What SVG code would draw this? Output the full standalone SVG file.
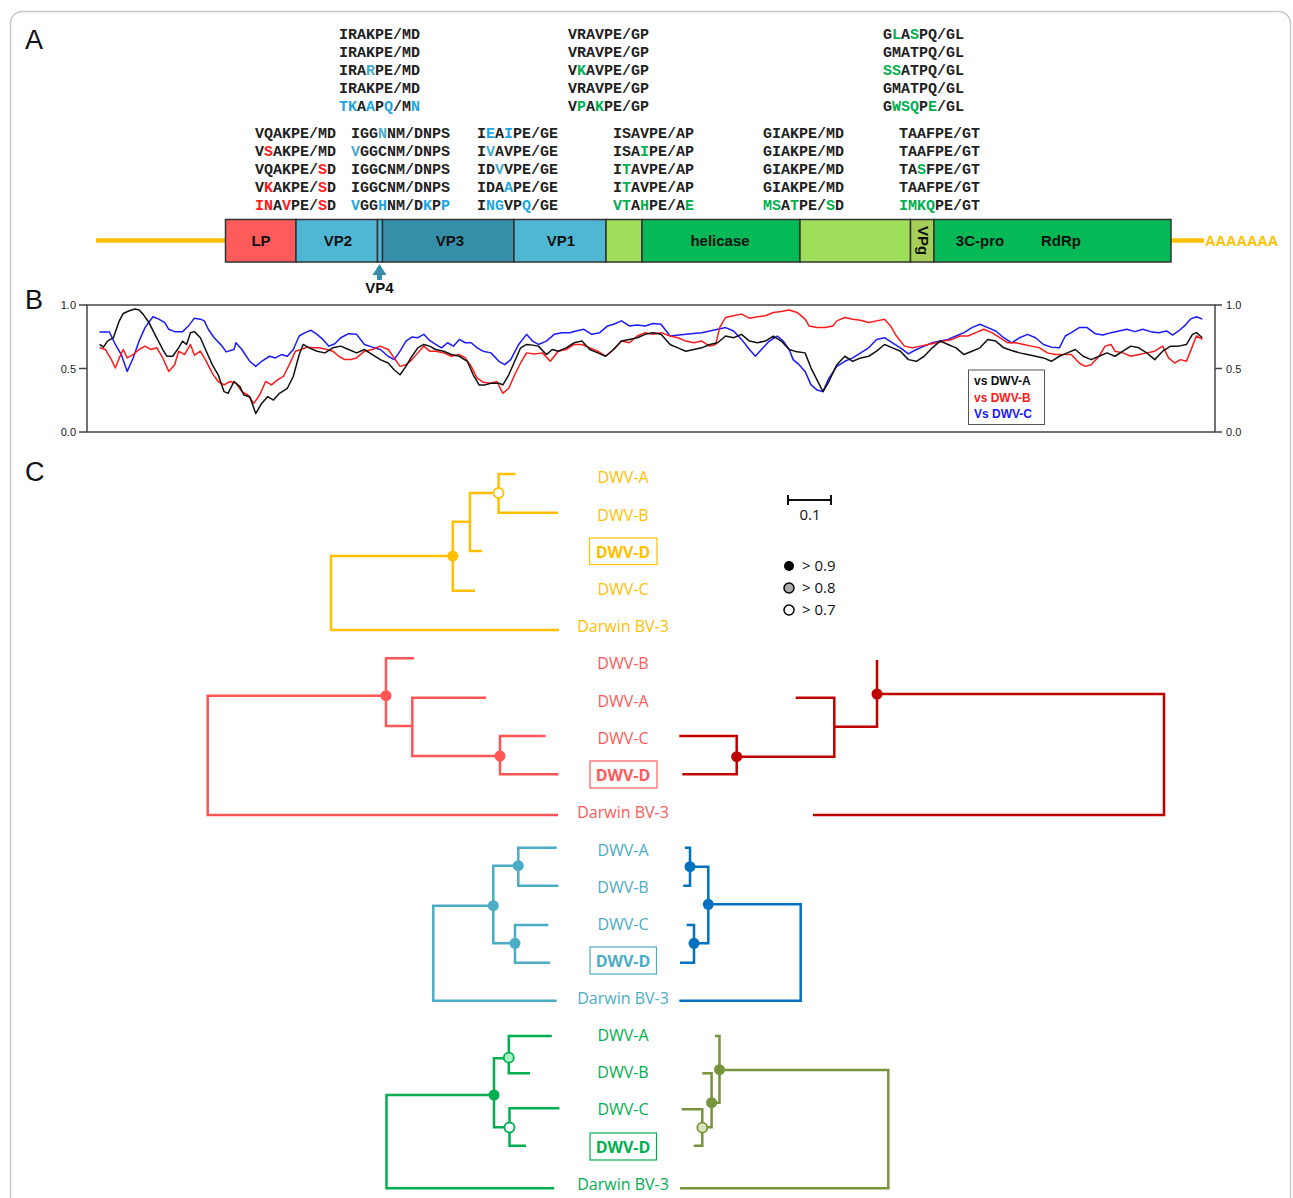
<svg xmlns="http://www.w3.org/2000/svg" width="1293" height="1198" viewBox="0 0 1293 1198">
<style>
.seq{font-family:"Liberation Mono","Courier New",monospace;font-size:15px;font-weight:bold;fill:#222}
.r{fill:#ff1a1a}.b{fill:#1ea5e3}.t{fill:#4bacc6}.g{fill:#00b050}
.panel{font-family:"Liberation Sans",Arial,sans-serif;font-size:27px;fill:#111}
.seg{stroke:#333;stroke-width:1.5}
.gl{font-family:"Liberation Sans",Arial,sans-serif;font-size:15px;font-weight:bold;fill:#111;text-anchor:middle}
.ax{font-family:"Liberation Sans",Arial,sans-serif;font-size:11px;fill:#222}
.cv{fill:none;stroke-width:1.5;stroke-linejoin:round}
.lg{font-family:"Liberation Sans",Arial,sans-serif;font-size:12px;font-weight:bold}
.tl{font-family:"Open Sans","Liberation Sans",sans-serif;font-size:16px;text-anchor:middle}
.tb{font-weight:bold}
.br{fill:none;stroke-width:2.5;stroke-linejoin:miter}
.leg{font-family:"Open Sans","Liberation Sans",sans-serif;font-size:15px;fill:#111}
</style>
<rect x="10.5" y="11.5" width="1280" height="1200" rx="12" fill="#fff" stroke="#c8c8c8" stroke-width="1.5"/>
<text class="panel" x="25" y="49">A</text>
<text class="panel" x="25" y="309">B</text>
<text class="panel" x="25" y="481">C</text>

<g id="sequences">
<g id="seq-top1">
<text class="seq" x="339" y="38.5">IRAKPE/MD</text>
<text class="seq" x="339" y="56.5">IRAKPE/MD</text>
<text class="seq" x="339" y="74.5">IRA<tspan class="t">R</tspan>PE/MD</text>
<text class="seq" x="339" y="92.5">IRAKPE/MD</text>
<text class="seq" x="339" y="110.5"><tspan class="b">TK</tspan>A<tspan class="b">A</tspan>P<tspan class="b">Q</tspan>/M<tspan class="b">N</tspan></text>
</g>
<g id="seq-top2">
<text class="seq" x="568" y="38.5">VRAVPE/GP</text>
<text class="seq" x="568" y="56.5">VRAVPE/GP</text>
<text class="seq" x="568" y="74.5">V<tspan class="g">K</tspan>AVPE/GP</text>
<text class="seq" x="568" y="92.5">VRAVPE/GP</text>
<text class="seq" x="568" y="110.5">V<tspan class="g">P</tspan>A<tspan class="g">K</tspan>PE/GP</text>
</g>
<g id="seq-top3">
<text class="seq" x="883" y="38.5">G<tspan class="g">L</tspan>A<tspan class="g">S</tspan>PQ/GL</text>
<text class="seq" x="883" y="56.5">GMATPQ/GL</text>
<text class="seq" x="883" y="74.5"><tspan class="g">SS</tspan>ATPQ/GL</text>
<text class="seq" x="883" y="92.5">GMATPQ/GL</text>
<text class="seq" x="883" y="110.5">G<tspan class="g">WSQ</tspan>P<tspan class="g">E</tspan>/GL</text>
</g>
<g id="seq-b1">
<text class="seq" x="255" y="137.5">VQAKPE/MD</text>
<text class="seq" x="255" y="155.5">V<tspan class="r">S</tspan>AKPE/MD</text>
<text class="seq" x="255" y="173.5">VQAKPE/<tspan class="r">S</tspan>D</text>
<text class="seq" x="255" y="191.5">V<tspan class="r">K</tspan>AKPE/<tspan class="r">S</tspan>D</text>
<text class="seq" x="255" y="209.5"><tspan class="r">IN</tspan>A<tspan class="r">V</tspan>PE/<tspan class="r">S</tspan>D</text>
</g>
<g id="seq-b2">
<text class="seq" x="351" y="137.5">IGG<tspan class="t">N</tspan>NM/DNPS</text>
<text class="seq" x="351" y="155.5"><tspan class="t">V</tspan>GGCNM/DNPS</text>
<text class="seq" x="351" y="173.5">IGGCNM/DNPS</text>
<text class="seq" x="351" y="191.5">IGGCNM/DNPS</text>
<text class="seq" x="351" y="209.5"><tspan class="b">V</tspan>GG<tspan class="b">H</tspan>NM/D<tspan class="b">K</tspan>P<tspan class="b">P</tspan></text>
</g>
<g id="seq-b3">
<text class="seq" x="477" y="137.5">I<tspan class="b">E</tspan>A<tspan class="b">I</tspan>PE/GE</text>
<text class="seq" x="477" y="155.5">I<tspan class="t">V</tspan>AVPE/GE</text>
<text class="seq" x="477" y="173.5">ID<tspan class="t">V</tspan>VPE/GE</text>
<text class="seq" x="477" y="191.5">IDA<tspan class="b">A</tspan>PE/GE</text>
<text class="seq" x="477" y="209.5">I<tspan class="b">NG</tspan>VP<tspan class="b">Q</tspan>/GE</text>
</g>
<g id="seq-b4">
<text class="seq" x="613" y="137.5">ISAVPE/AP</text>
<text class="seq" x="613" y="155.5">ISA<tspan class="g">I</tspan>PE/AP</text>
<text class="seq" x="613" y="173.5">I<tspan class="g">T</tspan>AVPE/AP</text>
<text class="seq" x="613" y="191.5">I<tspan class="g">T</tspan>AVPE/AP</text>
<text class="seq" x="613" y="209.5"><tspan class="g">VT</tspan>A<tspan class="g">H</tspan>PE/A<tspan class="g">E</tspan></text>
</g>
<g id="seq-b5">
<text class="seq" x="763" y="137.5">GIAKPE/MD</text>
<text class="seq" x="763" y="155.5">GIAKPE/MD</text>
<text class="seq" x="763" y="173.5">GIAKPE/MD</text>
<text class="seq" x="763" y="191.5">GIAKPE/MD</text>
<text class="seq" x="763" y="209.5"><tspan class="g">MS</tspan>A<tspan class="g">T</tspan>PE/<tspan class="g">S</tspan>D</text>
</g>
<g id="seq-b6">
<text class="seq" x="899" y="137.5">TAAFPE/GT</text>
<text class="seq" x="899" y="155.5">TAAFPE/GT</text>
<text class="seq" x="899" y="173.5">TA<tspan class="g">S</tspan>FPE/GT</text>
<text class="seq" x="899" y="191.5">TAAFPE/GT</text>
<text class="seq" x="899" y="209.5"><tspan class="g">IMKQ</tspan>PE/GT</text>
</g>
</g>

<g id="genome">
<line x1="96" y1="240.5" x2="226" y2="240.5" stroke="#ffc000" stroke-width="4.5"/>
<line x1="1171" y1="240.5" x2="1204" y2="240.5" stroke="#ffc000" stroke-width="4.5"/>
<text x="1205" y="246" font-family="Liberation Sans, Arial, sans-serif" font-size="14.5" font-weight="bold" fill="#ffc000">AAAAAAA</text>
<g id="seg-LP"><rect class="seg" x="225.5" y="219.5" width="70.5" height="42.5" fill="#ff5b5b"/><text class="gl" x="261" y="246">LP</text></g>
<g id="seg-VP2"><rect class="seg" x="296" y="219.5" width="81.5" height="42.5" fill="#4fb6d4"/><text class="gl" x="338" y="246">VP2</text></g>
<g id="seg-VP4"><rect class="seg" x="377.5" y="219.5" width="5" height="42.5" fill="#4fb6d4"/></g>
<g id="seg-VP3"><rect class="seg" x="382.5" y="219.5" width="131.5" height="42.5" fill="#368fa8"/><text class="gl" x="450" y="246">VP3</text></g>
<g id="seg-VP1"><rect class="seg" x="514" y="219.5" width="92" height="42.5" fill="#4fb6d4"/><text class="gl" x="561" y="246">VP1</text></g>
<g id="seg-L1"><rect class="seg" x="606" y="219.5" width="36" height="42.5" fill="#9fde5a"/></g>
<g id="seg-helicase"><rect class="seg" x="642" y="219.5" width="158" height="42.5" fill="#06b957"/><text class="gl" x="720" y="246">helicase</text></g>
<g id="seg-L2"><rect class="seg" x="800" y="219.5" width="110.5" height="42.5" fill="#9fde5a"/></g>
<g id="seg-VPg"><rect class="seg" x="910.5" y="219.5" width="23.5" height="42.5" fill="#a5cf58"/><text class="gl" transform="translate(917.5,240.5) rotate(90)" x="0" y="0">VPg</text></g>
<g id="seg-3C"><rect class="seg" x="934" y="219.5" width="237" height="42.5" fill="#06b957"/><text class="gl" x="980" y="246">3C-pro</text><text class="gl" x="1061" y="246">RdRp</text></g>
<g id="VP4-arrow"><polygon points="379.5,264 372.5,275 377,275 377,280 382,280 382,275 386.5,275" fill="#368fa8"/><text class="gl" x="379.5" y="293" font-size="12">VP4</text></g>
</g>

<g id="plotB">
<rect x="87" y="305" width="1128" height="127" fill="none" stroke="#444" stroke-width="1.5"/>
<path d="M79,305H87M79,368.5H87M79,432H87M1215,305H1222M1215,368.5H1222M1215,432H1222" stroke="#444" stroke-width="1.5"/>
<text class="ax" x="76" y="309" text-anchor="end">1.0</text>
<text class="ax" x="76" y="373" text-anchor="end">0.5</text>
<text class="ax" x="76" y="436" text-anchor="end">0.0</text>
<text class="ax" x="1226" y="309">1.0</text>
<text class="ax" x="1226" y="373">0.5</text>
<text class="ax" x="1226" y="436">0.0</text>
<g transform="translate(60,293.9) scale(0.3954,0.337)">
<polyline class="cv" vector-effect="non-scaling-stroke" stroke="#1a1aff" points="100,113 125,113 140,150 155,180 170,230 185,190 200,140 215,100 235,68 250,75 265,85 275,105 290,112 310,112 325,95 340,72 355,75 365,80 375,105 390,130 410,155 420,172 440,165 445,145 460,165 480,200 495,215 510,200 530,185 545,190 560,180 575,185 590,165 605,125 620,115 635,108 650,120 665,135 680,155 695,148 710,130 730,118 750,120 770,150 790,158 810,165 830,185 845,195 860,170 875,140 890,128 905,130 920,120 935,138 950,150 965,160 980,145 995,155 1010,135 1025,145 1040,145 1055,160 1070,170 1090,175 1110,200 1125,210 1140,195 1160,150 1180,120 1195,140 1210,150 1230,140 1250,120 1270,115 1290,115 1305,110 1325,105 1345,120 1365,115 1385,95 1400,90 1420,80 1440,95 1460,92 1480,95 1500,88 1520,90 1543,125"/>
<polyline class="cv" vector-effect="non-scaling-stroke" stroke="#ff1a1a" points="100,160 115,165 130,195 140,220 150,190 160,165 170,190 185,180 200,165 215,155 230,165 245,160 260,190 275,230 290,210 300,170 315,180 330,150 340,182 355,170 370,200 385,235 400,260 415,270 430,260 445,265 460,290 475,300 490,325 505,300 520,260 535,270 550,255 565,245 580,210 595,170 610,165 625,158 640,160 655,160 675,165 690,170 705,185 720,195 735,195 750,190 770,170 790,165 810,155 830,165 845,190 860,215 875,210 890,195 905,175 920,155 935,170 950,170 970,175 990,185 1010,180 1025,190 1040,215 1055,250 1070,262 1090,265 1105,260 1120,295 1135,280 1150,240 1165,205 1180,175 1200,178 1220,175 1240,200 1260,170 1280,165 1300,150 1320,150 1340,160 1360,170 1380,185 1400,165 1420,140 1440,145 1460,125 1480,115 1500,120 1520,115 1543,125"/>
<polyline class="cv" vector-effect="non-scaling-stroke" stroke="#111" points="100,150 110,158 120,140 135,130 150,80 160,58 175,50 190,45 200,48 210,60 225,85 240,120 260,165 270,185 285,185 300,160 310,140 320,150 330,115 340,112 355,130 370,170 385,210 400,240 415,290 425,295 440,260 455,275 465,300 480,305 495,355 510,325 525,305 540,315 555,295 575,280 590,245 605,180 615,150 630,160 650,170 670,175 690,160 710,155 730,165 750,175 770,165 790,180 810,195 830,205 845,225 860,240 875,215 890,185 905,160 920,150 935,155 950,165 970,170 990,180 1010,185 1030,200 1045,240 1060,270 1075,270 1090,265 1110,265 1120,270 1135,240 1150,200 1165,160 1180,150 1195,152 1210,155 1230,180 1245,165 1260,170 1280,160 1300,145 1320,140 1340,165 1360,175 1380,185 1400,165 1420,140 1440,135 1460,130 1480,120 1500,115 1520,120 1543,150"/>
</g>
<g transform="translate(670,293.9) scale(0.3973,0.337)">
<polyline class="cv" vector-effect="non-scaling-stroke" stroke="#1a1aff" points="0,125 40,120 80,115 100,110 120,105 140,100 160,110 180,135 200,165 215,185 230,165 250,140 270,125 285,140 300,165 310,195 325,210 340,230 355,270 370,285 385,290 400,250 420,215 440,200 460,190 480,175 500,160 520,135 540,130 560,145 580,160 600,178 620,165 640,155 660,145 680,140 700,135 720,125 740,115 760,100 780,90 800,100 820,110 840,130 860,145 880,130 900,120 920,130 940,150 960,158 980,160 995,125 1010,115 1030,100 1050,100 1070,118 1090,122 1110,115 1130,110 1150,105 1170,112 1190,105 1210,112 1230,115 1250,110 1265,122 1280,110 1295,95 1310,75 1325,68 1340,75"/>
<polyline class="cv" vector-effect="non-scaling-stroke" stroke="#ff1a1a" points="0,125 20,130 40,140 60,145 80,140 100,155 115,150 125,100 140,70 160,65 180,60 200,72 220,68 240,65 260,55 280,52 300,48 320,55 340,75 350,95 370,100 390,100 410,95 420,80 440,70 460,75 480,78 500,85 520,80 540,75 555,95 570,125 590,155 610,160 630,155 650,150 670,145 690,140 710,135 730,125 750,125 770,115 790,105 810,115 830,130 850,145 870,145 890,150 910,155 930,160 950,175 970,180 990,180 1010,180 1030,205 1045,215 1060,210 1080,185 1095,155 1110,150 1120,170 1140,175 1160,185 1180,180 1200,175 1220,170 1240,155 1255,190 1270,205 1285,195 1300,200 1315,155 1325,125 1340,135"/>
<polyline class="cv" vector-effect="non-scaling-stroke" stroke="#111" points="0,150 20,160 40,170 60,165 80,160 100,150 120,145 140,125 160,130 180,120 200,140 220,145 240,140 260,125 280,140 300,165 320,172 340,175 355,220 370,255 385,290 400,260 420,210 440,185 460,200 480,190 500,185 520,170 540,150 560,160 580,170 600,195 620,200 640,185 660,160 680,140 700,150 720,160 740,180 760,170 780,160 800,135 820,140 840,160 860,168 880,175 900,180 920,185 940,190 960,200 980,185 1000,175 1020,165 1040,185 1060,195 1080,185 1100,175 1120,185 1140,170 1160,155 1180,160 1200,175 1220,195 1240,170 1260,155 1280,155 1300,150 1315,120 1325,115 1340,130"/>
</g>
<g id="plot-legend">
<rect x="968.5" y="370" width="76" height="54.5" fill="#fff" stroke="#555" stroke-width="1"/>
<text class="lg" x="974" y="385" fill="#111">vs DWV-A</text>
<text class="lg" x="974" y="401.5" fill="#ff1a1a">vs DWV-B</text>
<text class="lg" x="974" y="418" fill="#1a1aff">Vs DWV-C</text>
</g>
</g>

<g id="connectors">
<path class="br" stroke="#ffc000" d="M559,630H331V556H452.8M470,521.7H452.8V590.7H475M482,551H470V493H498.6M515.5,474H498.6V512.7H558"/>
<path class="br" stroke="#ff5555" d="M558,815H207.7V695.7H386M414,658.3H386V726H412.3M486,697.7H412.3V756H500M545.7,736H500V774.3H558.3"/>
<path class="br" stroke="#c00000" d="M813,815H1164V694H877M877,660V726.7H834.3M795.7,697.7H834.3V756.7H736.7M679.3,736H736.7V774.3H682.3"/>
<path class="br" stroke="#4bacc6" d="M556.7,1000.7H433.3V905.7H493.3M518.3,865.7H493.3V943.3H515M556.7,847.7H518.3V885.7H558.3M548.3,925H515V962.7H550"/>
<path class="br" stroke="#0070c0" d="M679.3,1000.7H800.7V904.3H708.3M690,866.7H708.3V943.3H694M685,847.7H690V885.7H683.3M686.7,925H694V962.7H680"/>
<path class="br" stroke="#00b050" d="M554.2,1188.3H386.5V1095H494M508.8,1058.3H494V1127.3H509.5M551.8,1036H508.8V1073.3H530M559.4,1108.3H509.5V1145.7H526"/>
<path class="br" stroke="#77933c" d="M680,1188.3H888.3V1070H719.5M715,1036H719.5V1102.7H711.6M702.3,1073.3H711.6V1127.3H702.3M681.6,1109.3H702.3V1145.7H693.7"/>
</g>

<g id="tree-nodes">
<circle cx="452.8" cy="556" r="5.5" fill="#ffc000"/>
<circle cx="498.6" cy="493" r="5" fill="#fff" stroke="#ffc000" stroke-width="1.8"/>
<circle cx="386" cy="695.7" r="5.5" fill="#ff5555"/>
<circle cx="500" cy="756" r="5.5" fill="#ff5555"/>
<circle cx="877" cy="694" r="5.5" fill="#c00000"/>
<circle cx="736.7" cy="756.7" r="5.5" fill="#c00000"/>
<circle cx="518.3" cy="865.7" r="5.5" fill="#4bacc6"/>
<circle cx="493.3" cy="905.7" r="5.5" fill="#4bacc6"/>
<circle cx="515" cy="943.3" r="5.5" fill="#4bacc6"/>
<circle cx="690" cy="866.7" r="5.5" fill="#0070c0"/>
<circle cx="708.3" cy="904.3" r="5.5" fill="#0070c0"/>
<circle cx="694" cy="943.3" r="5.5" fill="#0070c0"/>
<circle cx="494" cy="1095" r="5.5" fill="#00b050"/>
<circle cx="508.8" cy="1057.7" r="5" fill="#a6f2c4" stroke="#00b050" stroke-width="1.8"/>
<circle cx="509.5" cy="1127.5" r="5" fill="#fff" stroke="#00b050" stroke-width="1.8"/>
<circle cx="719.5" cy="1069.7" r="5.5" fill="#77933c"/>
<circle cx="711.6" cy="1102.7" r="5.5" fill="#77933c"/>
<circle cx="702.3" cy="1127.7" r="5" fill="#d7e4bd" stroke="#77933c" stroke-width="1.8"/>
</g>

<g id="labels-yellow" fill="#ffc000">
<g id="y-A"><text class="tl" x="623" y="482.5">DWV-A</text></g>
<g id="y-B"><text class="tl" x="623" y="520.5">DWV-B</text></g>
<g id="y-D"><rect x="589.5" y="538" width="67.5" height="26.5" fill="none" stroke="#ffc000" stroke-width="1.2"/><text class="tl tb" x="623" y="557.5">DWV-D</text></g>
<g id="y-C"><text class="tl" x="623" y="594.5">DWV-C</text></g>
<g id="y-Dar"><text class="tl" x="623" y="631.5">Darwin BV-3</text></g>
</g>
<g id="labels-red" fill="#ff5a5a">
<g id="r-B"><text class="tl" x="623" y="668.5">DWV-B</text></g>
<g id="r-A"><text class="tl" x="623" y="706.5">DWV-A</text></g>
<g id="r-C"><text class="tl" x="623" y="743.5">DWV-C</text></g>
<g id="r-D"><rect x="590" y="761" width="67" height="27" fill="none" stroke="#ff5a5a" stroke-width="1.2"/><text class="tl tb" x="623" y="780.5">DWV-D</text></g>
<g id="r-Dar"><text class="tl" x="623" y="817.5">Darwin BV-3</text></g>
</g>
<g id="labels-blue" fill="#4bacc6">
<g id="b-A"><text class="tl" x="623" y="855.5">DWV-A</text></g>
<g id="b-B"><text class="tl" x="623" y="892.5">DWV-B</text></g>
<g id="b-C"><text class="tl" x="623" y="929.5">DWV-C</text></g>
<g id="b-D"><rect x="590" y="947" width="66.5" height="27" fill="none" stroke="#4bacc6" stroke-width="1.2"/><text class="tl tb" x="623" y="966.5">DWV-D</text></g>
<g id="b-Dar"><text class="tl" x="623" y="1003.5">Darwin BV-3</text></g>
</g>
<g id="labels-green" fill="#00b050">
<g id="g-A"><text class="tl" x="623" y="1040.5">DWV-A</text></g>
<g id="g-B"><text class="tl" x="623" y="1077.5">DWV-B</text></g>
<g id="g-C"><text class="tl" x="623" y="1114.5">DWV-C</text></g>
<g id="g-D"><rect x="590" y="1133" width="66.5" height="27" fill="none" stroke="#00b050" stroke-width="1.2"/><text class="tl tb" x="623" y="1152.5">DWV-D</text></g>
<g id="g-Dar"><text class="tl" x="623" y="1189.5">Darwin BV-3</text></g>
</g>

<g id="scale-bar">
<path d="M788,500H831M788,495V505M831,495V505" stroke="#111" stroke-width="2" fill="none"/>
<text class="leg" x="810" y="520" text-anchor="middle">0.1</text>
</g>
<g id="support-legend">
<circle cx="789" cy="566" r="5" fill="#000"/>
<circle cx="789" cy="588" r="5" fill="#aaa" stroke="#000" stroke-width="1.5"/>
<circle cx="789" cy="610" r="5" fill="#fff" stroke="#000" stroke-width="1.5"/>
<text class="leg" x="802" y="571">&gt; 0.9</text>
<text class="leg" x="802" y="593">&gt; 0.8</text>
<text class="leg" x="802" y="615">&gt; 0.7</text>
</g>
</svg>
